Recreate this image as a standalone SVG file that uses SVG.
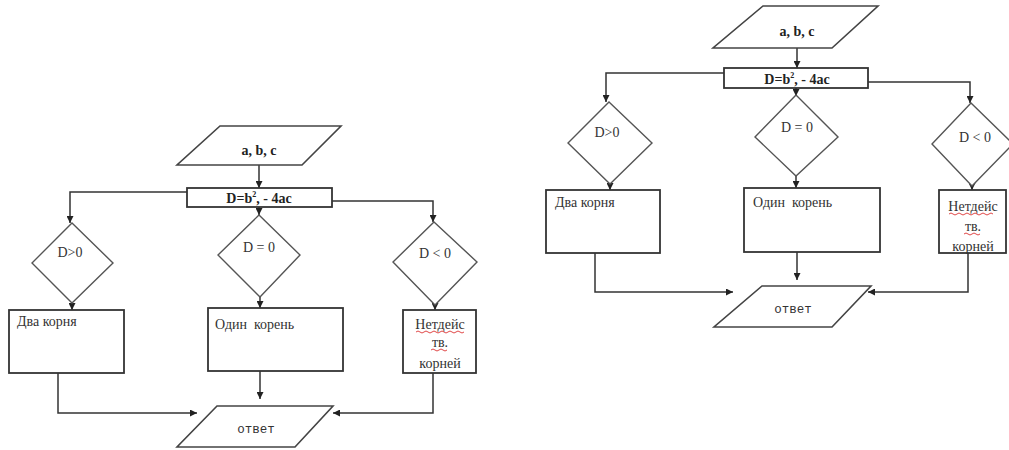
<svg xmlns="http://www.w3.org/2000/svg" width="1009" height="450" viewBox="0 0 1009 450">
<style>
.box{fill:#fff;stroke:#333;stroke-width:1.8}
.dia{fill:#fff;stroke:#555;stroke-width:1.4}
.par{fill:#fff;stroke:#444;stroke-width:1.6}
.con{fill:none;stroke:#333;stroke-width:1.5}
.arr{marker-end:url(#ah)}
.t{font-family:'Liberation Serif','DejaVu Serif',serif;font-size:14px;fill:#333}
.b{font-weight:bold;font-size:14px;fill:#222}
.m{font-family:'Liberation Mono','DejaVu Sans Mono',monospace;font-size:12.5px;fill:#333}
.c{text-anchor:middle}
.sq{fill:none;stroke:#d33;stroke-width:0.9}
</style>
<defs>
<marker id="ah" viewBox="0 0 8 8" refX="8" refY="4" markerWidth="7" markerHeight="7" markerUnits="userSpaceOnUse" orient="auto">
<path d="M0,0 L8,4 L0,8 z" fill="#222"/>
</marker>
</defs>
<rect width="1009" height="450" fill="#fff"/>

<g id="connectors">
<path class="con arr" d="M259,165 V188"/>
<path class="con arr" d="M187,192 H70 V223"/>
<path class="con arr" d="M259,207 V215"/>
<path class="con arr" d="M332,201 H433 V222"/>
<path class="con arr" d="M72,303 V310"/>
<path class="con arr" d="M260,297 V308"/>
<path class="con arr" d="M435,305 V310"/>
<path class="con arr" d="M58,373 V413 H197"/>
<path class="con arr" d="M260,371 V399"/>
<path class="con arr" d="M433,373 V413 H333"/>
<path class="con arr" d="M797,48 V68"/>
<path class="con arr" d="M724,73 H606 V102"/>
<path class="con arr" d="M796,88 V96"/>
<path class="con arr" d="M868,82 H970 V103"/>
<path class="con arr" d="M610,184 V190"/>
<path class="con arr" d="M796,176 V188"/>
<path class="con arr" d="M972,186 V190"/>
<path class="con arr" d="M595,253 V292 H733"/>
<path class="con arr" d="M797,252 V280"/>
<path class="con arr" d="M968,253 V292 H868"/>
</g>

<g id="L-input">
<polygon class="par" points="220,126 341,126 302,165 177,165"/>
<text class="t b c" x="259" y="155">a, b, c</text>
</g>
<g id="L-disc">
<rect class="box" x="187" y="188" width="145" height="19"/>
<text class="t b c" x="259" y="203">D=b<tspan font-size="8" dy="-6">2</tspan><tspan dy="6">, - 4ac</tspan></text>
</g>
<g id="L-dpos">
<polygon class="dia" points="72,223 113,263 72,303 32,263"/>
<text class="t c" x="70" y="257">D&gt;0</text>
</g>
<g id="L-dzero">
<polygon class="dia" points="259,215 300,255 260,297 218,255"/>
<text class="t c" x="259" y="252">D = 0</text>
</g>
<g id="L-dneg">
<polygon class="dia" points="434,222 477,262 435,305 393,262"/>
<text class="t c" x="435" y="258">D &lt; 0</text>
</g>
<g id="L-two">
<rect class="box" x="9" y="310" width="115" height="63"/>
<text class="t" x="17" y="326">Два корня</text>
</g>
<g id="L-one">
<rect class="box" x="208" y="308" width="135" height="63"/>
<text class="t" x="215" y="329" xml:space="preserve">Один  корень</text>
</g>
<g id="L-none">
<rect class="box" x="403" y="310" width="73" height="63"/>
<text class="t c" x="440" y="329">Нетдейс</text>
<text class="t c" x="440" y="347">тв.</text>
<text class="t c" x="440" y="368">корней</text>
<path class="sq" d="M416,332 q2,-2 4,0 t4,0 t4,0 t4,0 t4,0 t4,0 t4,0 t4,0 t4,0 t4,0 t4,0 t4,0"/>
<path class="sq" d="M431,350 q2,-2 4,0 t4,0 t4,0 t4,0"/>
</g>
<g id="L-answer">
<polygon class="par" points="217,406 333,406 295,447 177,447"/>
<text class="m c" x="256" y="433">ответ</text>
</g>

<g id="R-input">
<polygon class="par" points="763,6 878,6 832,48 713,48"/>
<text class="t b c" x="797" y="36">a, b, c</text>
</g>
<g id="R-disc">
<rect class="box" x="724" y="68" width="144" height="20"/>
<text class="t b c" x="797" y="84">D=b<tspan font-size="8" dy="-6">2</tspan><tspan dy="6">, - 4ac</tspan></text>
</g>
<g id="R-dpos">
<polygon class="dia" points="609,102 652,143 610,184 568,143"/>
<text class="t c" x="607" y="137">D&gt;0</text>
</g>
<g id="R-dzero">
<polygon class="dia" points="796,95 838,137 796,176 755,137"/>
<text class="t c" x="797" y="132">D = 0</text>
</g>
<g id="R-dneg">
<polygon class="dia" points="971,103 1013,144 972,186 932,144"/>
<text class="t c" x="975" y="142">D &lt; 0</text>
</g>
<g id="R-two">
<rect class="box" x="546" y="190" width="114" height="63"/>
<text class="t" x="555" y="207">Два корня</text>
</g>
<g id="R-one">
<rect class="box" x="744" y="188" width="136" height="64"/>
<text class="t" x="753" y="207" xml:space="preserve">Один  корень</text>
</g>
<g id="R-none">
<rect class="box" x="939" y="190" width="67" height="63"/>
<text class="t c" x="973" y="211">Нетдейс</text>
<text class="t c" x="973" y="231">тв.</text>
<text class="t c" x="973" y="251">корней</text>
<path class="sq" d="M949,214 q2,-2 4,0 t4,0 t4,0 t4,0 t4,0 t4,0 t4,0 t4,0 t4,0 t4,0 t4,0"/>
<path class="sq" d="M964,234 q2,-2 4,0 t4,0 t4,0 t4,0"/>
</g>
<g id="R-answer">
<polygon class="par" points="762,286 871,286 832,327 714,327"/>
<text class="m c" x="793" y="313">ответ</text>
</g>
</svg>
